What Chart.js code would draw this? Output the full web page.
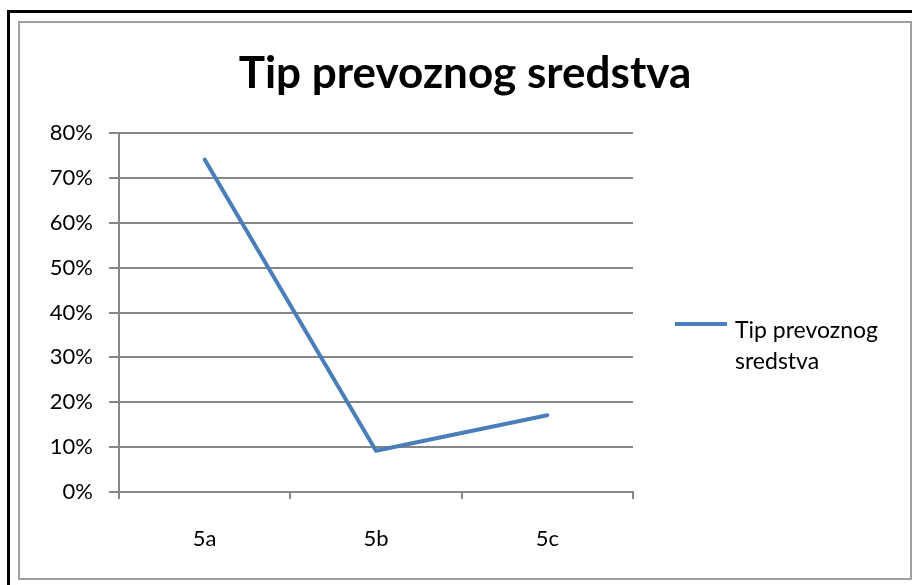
<!DOCTYPE html>
<html>
<head>
<meta charset="utf-8">
<script src="https://cdn.jsdelivr.net/npm/chart.js@4.4.0/dist/chart.umd.min.js"></script>
<style>
  body { margin: 0; background: #fff; }
</style>
</head>
<body>
<canvas id="grafik" width="912" height="585"></canvas>
<script>
const kategorije = ['5a', '5b', '5c']
const vrednosti = [0.741, 0.092, 0.171]
const nazivSerije = 'Tip prevoznog sredstva'
const legendaRedovi = ['Tip prevoznog', 'sredstva']
const yTicks = [0, 0.1, 0.2, 0.3, 0.4, 0.5, 0.6, 0.7, 0.8]

const plava = '#4A7EBB'
const siva = '#868686'
const font = 'Lato'

// okvir oko grafika (crni i sivi) + naslov centriran na celu sliku
const okvir = {
    id: 'okvir',
    beforeDraw(chart) {
        const ctx = chart.ctx
        ctx.save()
        ctx.fillStyle = '#fff'
        ctx.fillRect(0, 0, chart.width, chart.height)
        ctx.strokeStyle = '#000'
        ctx.lineWidth = 3
        ctx.strokeRect(8.5, 11.5, 920, 600)
        ctx.strokeStyle = '#a0a0a0'
        ctx.lineWidth = 2
        ctx.strokeRect(19, 22, 892, 557)
        ctx.fillStyle = '#000'
        ctx.font = `bold 44px ${font}`
        ctx.textAlign = 'center'
        ctx.textBaseline = 'alphabetic'
        ctx.fillText(nazivSerije, 465, 88)
        ctx.restore()
    }
}

// legenda sa prelomom teksta
const legenda = {
    id: 'legenda',
    afterDraw(chart) {
        const ctx = chart.ctx
        ctx.save()
        ctx.strokeStyle = plava
        ctx.lineWidth = 4
        ctx.beginPath()
        ctx.moveTo(675, 324)
        ctx.lineTo(727, 324)
        ctx.stroke()
        ctx.fillStyle = '#000'
        ctx.font = `23px ${font}`
        ctx.textBaseline = 'middle'
        legendaRedovi.forEach((red, i) => {
            ctx.fillText(red, 735, 331 + i * 31)
        })
        ctx.restore()
    }
}

const ctx = document.getElementById('grafik').getContext('2d')
const grafik = new Chart(ctx, {
    type: 'line',
    data: {
        labels: kategorije,
        datasets: [{
            label: nazivSerije,
            data: vrednosti,
            borderColor: plava,
            backgroundColor: plava,
            borderWidth: 4,
            borderCapStyle: 'round',
            borderJoinStyle: 'round',
            pointRadius: 0,
            tension: 0
        }]
    },
    options: {
        responsive: false,
        animation: false,
        layout: {
            padding: { left: 0, right: 279, top: 133, bottom: 0 }
        },
        plugins: {
            legend: { display: false },
            tooltip: { enabled: false },
            title: { display: false }
        },
        scales: {
            x: {
                offset: true,
                grid: {
                    offset: true,
                    drawOnChartArea: false,
                    drawTicks: true,
                    tickLength: 7,
                    color: siva,
                    lineWidth: 2
                },
                border: { display: true, color: siva, width: 2 },
                ticks: {
                    color: '#000',
                    font: { family: font, size: 22 },
                    padding: 27
                },
                afterFit: (scale) => { scale.height = 93 }
            },
            y: {
                min: 0,
                max: 0.8,
                afterBuildTicks: (scale) => {
                    scale.ticks = yTicks.map(v => ({ value: v }))
                },
                grid: {
                    drawTicks: true,
                    tickLength: 10,
                    color: siva,
                    lineWidth: 2
                },
                border: { display: true, color: siva, width: 2 },
                ticks: {
                    color: '#000',
                    font: { family: font, size: 22 },
                    padding: 16,
                    callback: (v) => Math.round(v * 100) + '%'
                },
                afterFit: (scale) => { scale.width = 119 }
            }
        }
    },
    plugins: [okvir, legenda]
})
</script>
</body>
</html>
